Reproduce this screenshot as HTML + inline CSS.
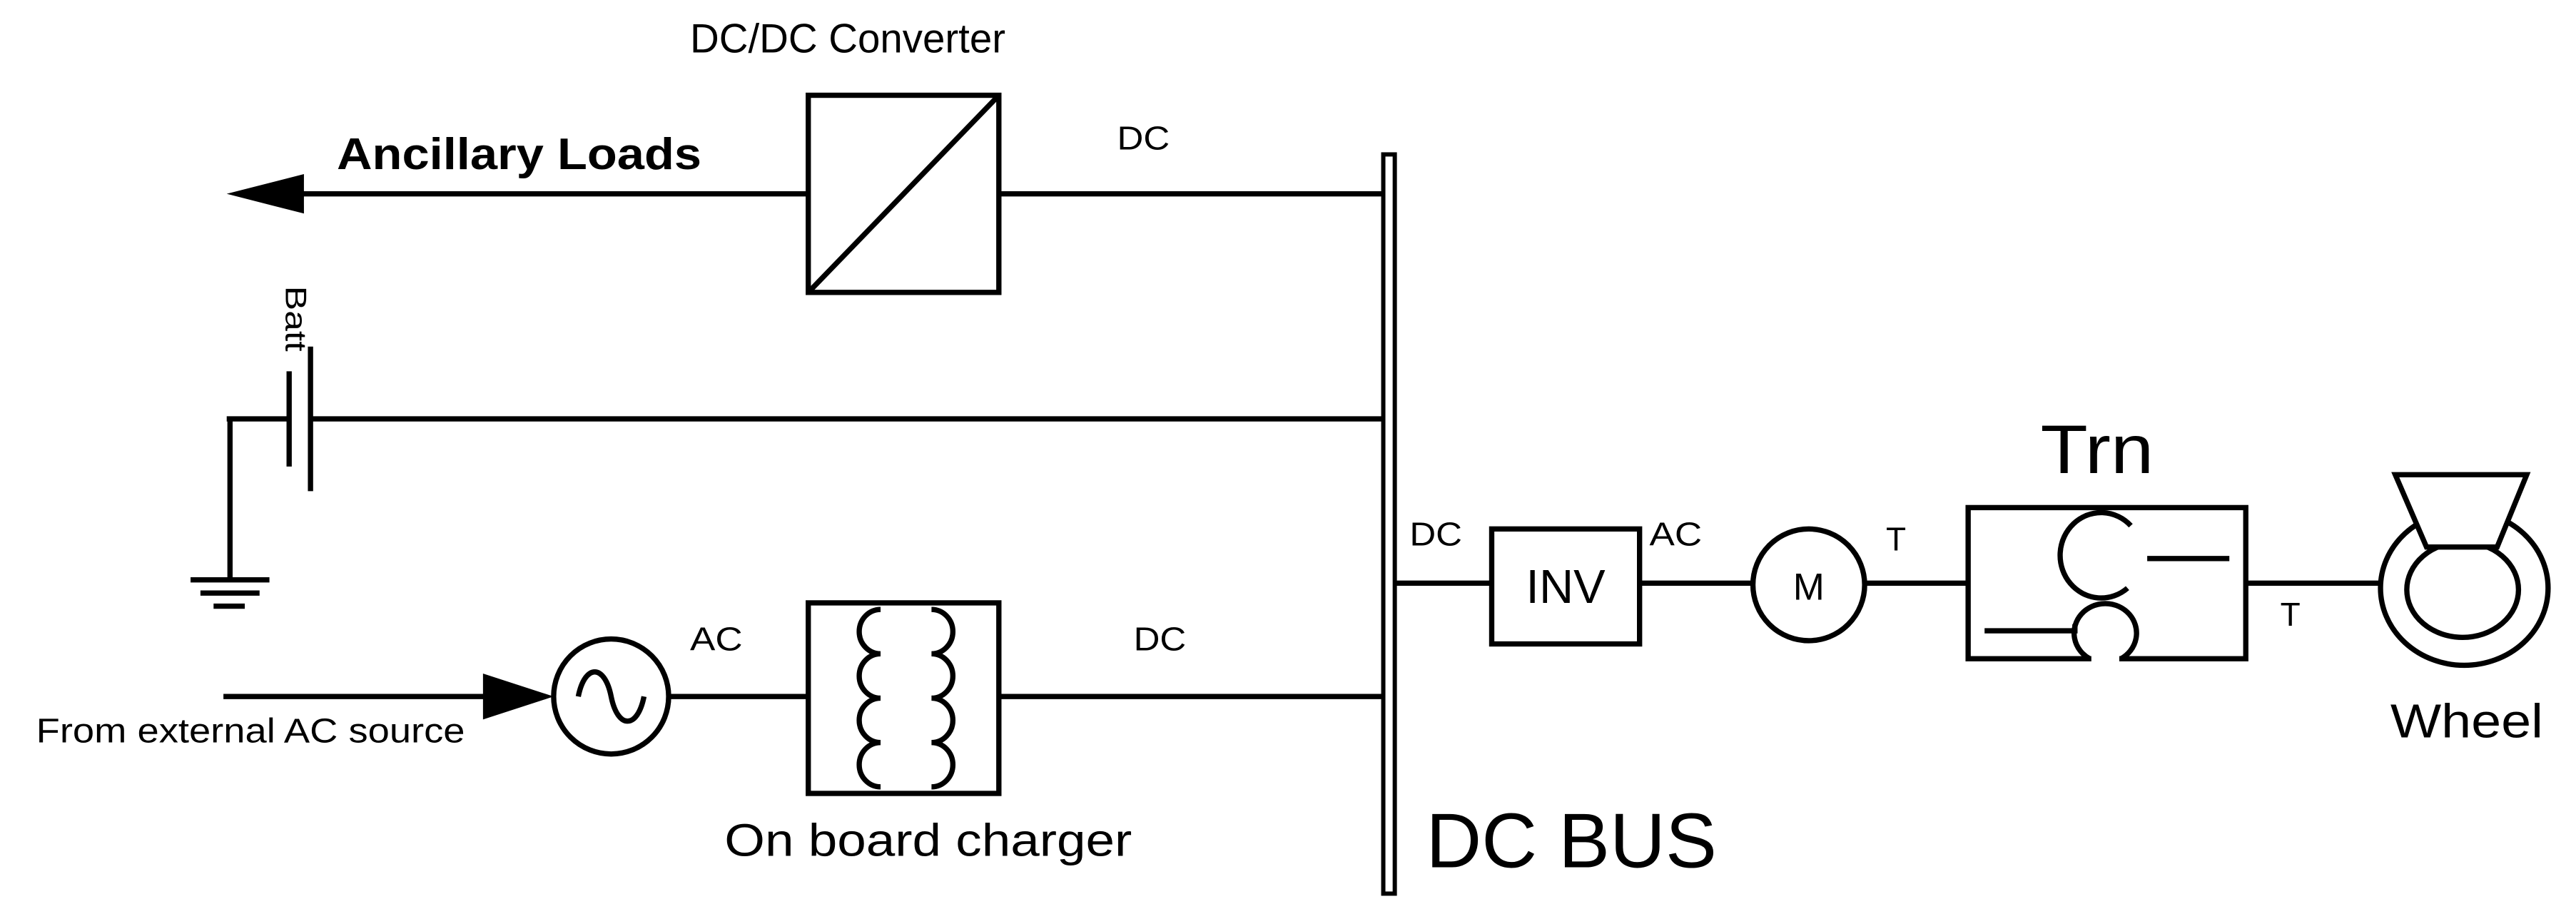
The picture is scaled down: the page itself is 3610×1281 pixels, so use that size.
<!DOCTYPE html>
<html><head><meta charset="utf-8"><style>html,body{margin:0;padding:0;background:#fff}svg{display:block}</style></head>
<body>
<svg width="3610" height="1281" viewBox="0 0 1568 556.4" preserveAspectRatio="none" xmlns="http://www.w3.org/2000/svg" font-family="Liberation Sans, sans-serif">
<g stroke="#000" stroke-width="3.2" fill="none">
<rect x="842" y="94" width="7" height="450" stroke-width="2.6"/>
<line x1="180" y1="118" x2="492" y2="118"/>
<line x1="608" y1="118" x2="842" y2="118"/>
<rect x="492" y="58" width="116" height="120"/>
<line x1="492" y1="178" x2="608" y2="58"/>
<line x1="138" y1="255" x2="176" y2="255"/>
<line x1="189" y1="255" x2="842" y2="255"/>
<line x1="176" y1="226" x2="176" y2="284"/>
<line x1="189" y1="211" x2="189" y2="299"/>
<line x1="140" y1="254" x2="140" y2="353"/>
<line x1="116" y1="353" x2="164" y2="353"/>
<line x1="122" y1="361" x2="158" y2="361"/>
<line x1="130" y1="369" x2="149" y2="369"/>
<line x1="136" y1="424" x2="300" y2="424"/>
<circle cx="372" cy="424" r="35"/>
<path d="M352 424 C356 404 368 404 372 424 C376 444 388 444 392 424"/>
<line x1="407" y1="424" x2="492" y2="424"/>
<rect x="492" y="367" width="116" height="116"/>
<line x1="608" y1="424" x2="842" y2="424"/>
<path d="M536 371 a13 13.5 0 0 0 0 27 a13 13.5 0 0 0 0 27 a13 13.5 0 0 0 0 27 a13 13.5 0 0 0 0 27"/>
<path d="M567 371 a13 13.5 0 0 1 0 27 a13 13.5 0 0 1 0 27 a13 13.5 0 0 1 0 27 a13 13.5 0 0 1 0 27"/>
<line x1="849" y1="355" x2="908" y2="355"/>
<rect x="908" y="322" width="90" height="70"/>
<line x1="998" y1="355" x2="1067" y2="355"/>
<circle cx="1101" cy="356" r="34"/>
<line x1="1135" y1="355" x2="1198" y2="355"/>
<rect x="1198" y="309" width="169" height="92"/>
<path d="M1297 320 A25 26 0 1 0 1295 358"/>
<line x1="1307" y1="340" x2="1357" y2="340"/>
<path d="M1272 401 A19 18 0 1 1 1291 401"/>
<path d="M1208 384 L1263 384 L1263 380"/>
<line x1="1367" y1="355" x2="1448" y2="355"/>
<ellipse cx="1500" cy="358" rx="51" ry="47"/>
<ellipse cx="1499" cy="359" rx="34" ry="29"/>
<path d="M1458 289 L1538 289 L1520 333 L1477 333 Z" fill="#fff"/>
</g>
<g fill="#000" stroke="none">
<path d="M138 118 L185 106 L185 130 Z"/>
<path d="M337 424 L294 410 L294 438 Z"/>
<rect x="1273" y="399" width="17" height="5" fill="#fff"/>
</g>
<g fill="#000">
<text x="420" y="32" font-size="25" textLength="192" lengthAdjust="spacingAndGlyphs">DC/DC Converter</text>
<text x="205" y="103" font-size="27" font-weight="bold" textLength="222" lengthAdjust="spacingAndGlyphs">Ancillary Loads</text>
<text x="680" y="91" font-size="20" textLength="32" lengthAdjust="spacingAndGlyphs">DC</text>
<text transform="translate(174,174) rotate(90)" font-size="18" textLength="40" lengthAdjust="spacingAndGlyphs">Batt</text>
<text x="420" y="396" font-size="20" textLength="32" lengthAdjust="spacingAndGlyphs">AC</text>
<text x="690" y="396" font-size="20" textLength="32" lengthAdjust="spacingAndGlyphs">DC</text>
<text x="22" y="452" font-size="21" textLength="261" lengthAdjust="spacingAndGlyphs">From external AC source</text>
<text x="441" y="521" font-size="28" textLength="248" lengthAdjust="spacingAndGlyphs">On board charger</text>
<text x="868" y="528" font-size="47" textLength="177" lengthAdjust="spacingAndGlyphs">DC BUS</text>
<text x="858" y="332" font-size="20" textLength="32" lengthAdjust="spacingAndGlyphs">DC</text>
<text x="1004" y="332" font-size="20" textLength="32" lengthAdjust="spacingAndGlyphs">AC</text>
<text x="953" y="367" font-size="29" text-anchor="middle">INV</text>
<text x="1101" y="365" font-size="23" text-anchor="middle">M</text>
<text x="1148" y="335" font-size="20">T</text>
<text x="1388" y="381" font-size="20">T</text>
<text x="1242" y="288" font-size="42" textLength="69" lengthAdjust="spacingAndGlyphs">Trn</text>
<text x="1455" y="449" font-size="29" textLength="93" lengthAdjust="spacingAndGlyphs">Wheel</text>
</g>
</svg>
</body></html>
